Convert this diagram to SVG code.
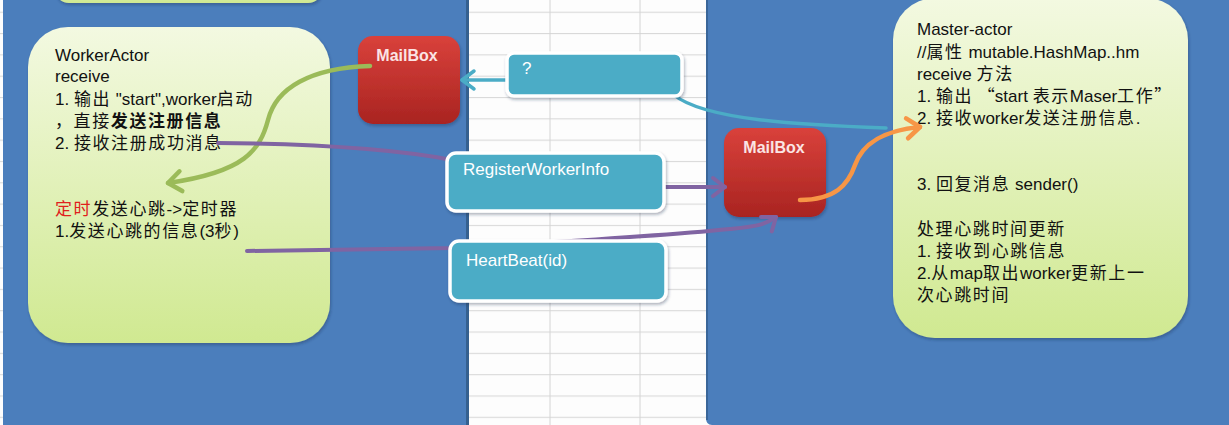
<svg xmlns="http://www.w3.org/2000/svg" width="1229" height="425" viewBox="0 0 1229 425">
<style>
.t{font-family:"Liberation Sans","Noto Sans CJK SC",sans-serif;font-size:17px;fill:#111111}
.c{letter-spacing:1.6px}
.q{font-family:"Noto Sans CJK SC",sans-serif;letter-spacing:0}
.b{font-weight:bold}
.red{fill:#e0201c}
.w{font-family:"Liberation Sans",sans-serif;font-size:17px;fill:#ffffff}
.mb{font-family:"Liberation Sans",sans-serif;font-size:16px;font-weight:bold;fill:#fbe4e4;text-anchor:middle}
.actor{fill:url(#gg);filter:url(#sh)}
.mail{fill:url(#rg);filter:url(#sh)}
.msg{fill:#4BACC6;stroke:#ffffff;stroke-width:3.5;filter:url(#sh)}
.ln{fill:none;stroke-linecap:round}
</style>
<defs>
<linearGradient id="gg" x1="0" y1="0" x2="0" y2="1">
<stop offset="0" stop-color="#F3F9E1"/>
<stop offset="1" stop-color="#D0E991"/>
</linearGradient>
<linearGradient id="rg" x1="0" y1="0" x2="0" y2="1">
<stop offset="0" stop-color="#D9413B"/>
<stop offset="1" stop-color="#A92421"/>
</linearGradient>
<pattern id="grid" x="0" y="11.7" width="30" height="21.32" patternUnits="userSpaceOnUse">
<line x1="0" y1="0.5" x2="30" y2="0.5" stroke="#d9d9d9" stroke-width="1.2"/>
</pattern>
<filter id="sh" x="-10%" y="-10%" width="125%" height="125%">
<feDropShadow dx="1" dy="2" stdDeviation="1.8" flood-color="#1b2f4a" flood-opacity="0.35"/>
</filter>
<marker id="ag" markerUnits="userSpaceOnUse" viewBox="0 0 26 26" markerWidth="26" markerHeight="26" refX="18" refY="13" orient="auto">
<path d="M5,3 L18,13 L5,23" fill="none" stroke="#9BBB59" stroke-width="4.5" stroke-linecap="round" stroke-linejoin="round"/>
</marker>
<marker id="at" markerUnits="userSpaceOnUse" viewBox="0 0 24 24" markerWidth="24" markerHeight="24" refX="17" refY="12" orient="auto">
<path d="M5,3 L17,12 L5,21" fill="none" stroke="#4BACC6" stroke-width="3.5" stroke-linecap="round" stroke-linejoin="round"/>
</marker>
<marker id="ap" markerUnits="userSpaceOnUse" viewBox="0 0 24 24" markerWidth="24" markerHeight="24" refX="17" refY="12" orient="auto">
<path d="M5,3 L17,12 L5,21" fill="none" stroke="#8064A2" stroke-width="4" stroke-linecap="round" stroke-linejoin="round"/>
</marker>
<marker id="ao" markerUnits="userSpaceOnUse" viewBox="0 0 26 26" markerWidth="26" markerHeight="26" refX="18" refY="13" orient="auto">
<path d="M5,3 L18,13 L5,23" fill="none" stroke="#F79646" stroke-width="4.5" stroke-linecap="round" stroke-linejoin="round"/>
</marker>
</defs>

<g id="background">
<rect x="0" y="0" width="1229" height="425" fill="#fdfdfd"/>
<rect x="0" y="0" width="1229" height="425" fill="url(#grid)"/>
<line x1="550" y1="0" x2="550" y2="425" stroke="#d4d4d4" stroke-width="1"/>
<line x1="640" y1="0" x2="640" y2="425" stroke="#d4d4d4" stroke-width="1"/>
<rect x="3" y="0" width="466" height="425" fill="#4B7EBC"/>
<rect x="466" y="0" width="3" height="425" fill="#35608f"/>
<path d="M706,0 H1229 V425 H712 Q706,425 706,418 Z" fill="#4B7EBC"/>
<rect x="706" y="0" width="2" height="420" fill="#3a6699"/>
</g>

<g id="top-box">
<rect class="actor" x="55" y="-40" width="267" height="43" rx="14"/>
</g>

<g id="worker-actor">
<rect class="actor" x="28" y="27" width="302" height="316" rx="40"/>
<text class="t" x="55" y="61">WorkerActor</text>
<text class="t" x="55" y="82">receive</text>
<text class="t" x="55" y="105">1. <tspan class="c">输出</tspan> "start",worker<tspan class="c">启动</tspan></text>
<text class="t" x="55" y="127"><tspan class="c">，直接</tspan><tspan class="c b">发送注册信息</tspan></text>
<text class="t" x="55" y="149">2. <tspan class="c">接收注册成功消息</tspan></text>
<text class="t" x="55" y="215"><tspan class="c red">定时</tspan><tspan class="c">发送心跳</tspan>-&gt;<tspan class="c">定时器</tspan></text>
<text class="t" x="55" y="237">1.<tspan class="c">发送心跳的信息</tspan>(3<tspan class="c">秒</tspan>)</text>
</g>

<g id="master-actor">
<rect class="actor" x="893" y="-2" width="295" height="340" rx="42"/>
<text class="t" x="917" y="35">Master-actor</text>
<text class="t" x="917" y="58">//<tspan class="c">属性</tspan> mutable.HashMap..hm</text>
<text class="t" x="917" y="80">receive <tspan class="c">方法</tspan></text>
<text class="t" x="917" y="102">1. <tspan class="c">输出</tspan> <tspan class="q">“</tspan>start <tspan class="c">表示</tspan>Maser<tspan class="c">工作</tspan><tspan class="q">”</tspan></text>
<text class="t" x="917" y="124">2. <tspan class="c">接收</tspan>worker<tspan class="c">发送注册信息</tspan>.</text>
<text class="t" x="917" y="190">3. <tspan class="c">回复消息</tspan> sender()</text>
<text class="t" x="917" y="235"><tspan class="c">处理心跳时间更新</tspan></text>
<text class="t" x="917" y="257">1. <tspan class="c">接收到心跳信息</tspan></text>
<text class="t" x="917" y="279">2.<tspan class="c">从</tspan>map<tspan class="c">取出</tspan>worker<tspan class="c">更新上一</tspan></text>
<text class="t" x="917" y="301"><tspan class="c">次心跳时间</tspan></text>
</g>

<g id="worker-mailbox">
<rect class="mail" x="358" y="36" width="102" height="88" rx="15"/>
<text class="mb" x="407" y="61">MailBox</text>
</g>

<g id="master-mailbox">
<rect class="mail" x="724" y="128" width="102" height="89" rx="15"/>
<text class="mb" x="774" y="153">MailBox</text>
</g>

<g id="connectors">
<path class="ln" d="M370,66 C310,68 276,88 268,120 C260,150 245,172 168,183" stroke="#9BBB59" stroke-width="4.5" marker-end="url(#ag)"/>
<path class="ln" d="M507,80 L462,80" stroke="#4BACC6" stroke-width="3.5" marker-end="url(#at)"/>
<path class="ln" d="M886,128 C800,125 705,120 674,95" stroke="#4BACC6" stroke-width="3.5"/>
<path class="ln" d="M218,143 C320,144 400,150 452,160" stroke="#8064A2" stroke-width="4"/>
<path class="ln" d="M664,187 L725,187" stroke="#8064A2" stroke-width="4" marker-end="url(#ap)"/>
<path class="ln" d="M247,251 L452,248 C560,242 680,234 730,229 C750,227 764,226 776,217" stroke="#8064A2" stroke-width="4" marker-end="url(#ap)"/>
<path class="ln" d="M800,200 C835,200 848,185 855,165 C862,145 880,131 920,127" stroke="#F79646" stroke-width="4.5" marker-end="url(#ao)"/>
</g>

<g id="msg-question">
<rect class="msg" x="507" y="53" width="175" height="43" rx="7"/>
<text class="w" x="522" y="74">?</text>
</g>

<g id="msg-register">
<rect class="msg" x="447" y="153" width="217" height="58" rx="9"/>
<text class="w" x="463" y="175">RegisterWorkerInfo</text>
</g>

<g id="msg-heartbeat">
<rect class="msg" x="450" y="241" width="216" height="60" rx="9"/>
<text class="w" x="466" y="266">HeartBeat(id)</text>
</g>
</svg>
